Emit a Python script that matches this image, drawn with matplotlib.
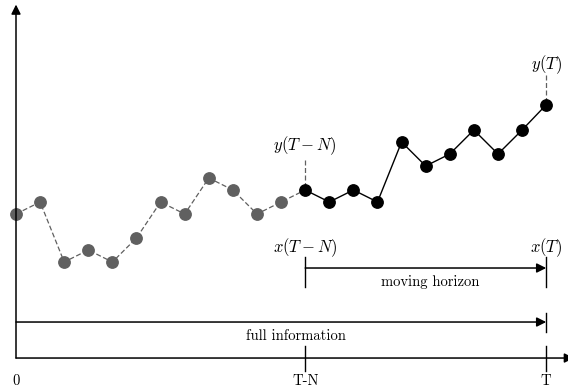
import matplotlib
matplotlib.use("Agg")
import matplotlib.pyplot as plt

plt.rcParams['mathtext.fontset'] = 'cm'
plt.rcParams['font.family'] = ['cmr10', 'DejaVu Serif']
plt.rcParams['axes.unicode_minus'] = False

# data
past_idx = list(range(0, 13))
past_vals = [4, 5, 0, 1, 0, 2, 5, 4, 7, 6, 4, 5, 6]
horizon_idx = list(range(12, 23))
horizon_vals = [6, 5, 6, 5, 10, 8, 9, 11, 9, 11, 13.1]
tick_positions = [0, 12, 22]
tick_labels = ["0", "T-N", "T"]

fig = plt.figure(figsize=(5.68, 3.92), dpi=100)
ax = fig.add_axes([0, 0, 1, 1])
ax.set_xlim(-0.664, 22.905)
ax.set_ylim(-10.83, 21.83)
ax.axis('off')

gray = '#606060'
ax.plot(past_idx, past_vals, ls=(0, (4, 2)), color=gray, lw=0.9, zorder=2)
ax.plot(past_idx[:-1], past_vals[:-1], 'o', color=gray, ms=8.2, zorder=3)
ax.plot(horizon_idx, horizon_vals, '-', color='black', lw=1.0, zorder=2)
ax.plot(horizon_idx, horizon_vals, 'o', color='black', ms=8.2, zorder=3)

arrow = dict(arrowstyle='-|>', color='black', lw=1.1, mutation_scale=14, shrinkA=0, shrinkB=0)

# axes
ax.annotate('', xy=(0, 21.45), xytext=(0, -8), arrowprops=arrow)
ax.annotate('', xy=(23.15, -8), xytext=(0, -8), arrowprops=arrow, annotation_clip=False)

# ticks
for p in tick_positions[1:]:
    ax.plot([p, p], [-7, -9.05], color='black', lw=1.0)
for p, lab in zip(tick_positions, tick_labels):
    ax.text(p, -9.95, lab, ha='center', va='center', fontsize=10.5)

# full information
ax.annotate('', xy=(22, -5), xytext=(0, -5), arrowprops=arrow)
ax.plot([22, 22], [-4.25, -5.83], color='black', lw=1.0)
ax.text(11.6, -6.17, 'full information', ha='center', va='center', fontsize=10.5)

# moving horizon
ax.annotate('', xy=(22, -0.5), xytext=(12, -0.5), arrowprops=arrow)
ax.plot([12, 12], [0.42, -2.1], color='black', lw=1.0)
ax.plot([22, 22], [0.42, -2.1], color='black', lw=1.0)
ax.text(17.18, -1.67, 'moving horizon', ha='center', va='center', fontsize=10.5)
ax.text(12, 1.2, r'$x(T-N)$', ha='center', va='center', fontsize=12)
ax.text(22, 1.2, r'$x(T)$', ha='center', va='center', fontsize=12)

# y labels with dashed leaders
ax.plot([12, 12], [8.5, 6], ls=(0, (4, 2)), color=gray, lw=0.9, zorder=1)
ax.text(12, 9.7, r'$y(T-N)$', ha='center', va='center', fontsize=12)
ax.plot([22, 22], [15.6, 13.1], ls=(0, (4, 2)), color=gray, lw=0.9, zorder=1)
ax.text(22, 16.45, r'$y(T)$', ha='center', va='center', fontsize=12)

fig.savefig('out.png', dpi=100)
